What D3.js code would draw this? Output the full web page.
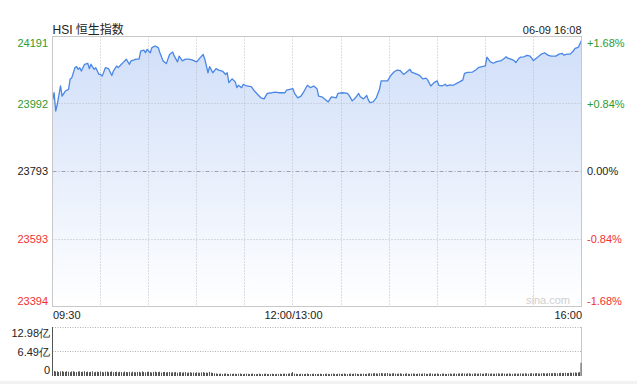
<!DOCTYPE html>
<html>
<head>
<meta charset="utf-8">
<script src="https://cdn.jsdelivr.net/npm/d3@7"></script>
<style>
body { margin: 0; background: #fff; }
svg { display: block; font-family: "Liberation Sans", Arial, "Noto Sans CJK SC", sans-serif; }
</style>
</head>
<body>
<script>
// minutes since 09:30, lunch break (12:00-13:00) squeezed out
var priceMinutes = [0,1,2,3,5,6,8,10,11,12,14,15,16,17,18,20,22,23,24,26,27,29,30,31,33,35,37,38,40,41,
	43,44,46,48,49,51,52,54,55,57,58,59,61,62,64,66,67,69,71,73,75,76,78,79,81,83,85,87,90,92,
	94,95,97,98,100,102,104,106,108,109,110,112,114,115,116,118,119,121,124,126,128,130,132,134,137,139,141,145,146,150,
	151,153,155,157,159,161,163,165,166,168,170,172,174,177,178,181,184,185,187,189,191,192,194,196,197,198,200,202,204,205,
	207,209,211,213,215,217,219,221,223,224,226,229,231,233,234,236,238,240,241,243,245,246,248,250,253,254,256,257,259,262,
	264,266,268,270,271,273,275,277,280,282,283,284,286,288,289,291,292,294,296,298,300,301,303,305,307,309,311,314,316,318,
	319,321,323,325,326,328,330];
var priceValues = [24003,24025,23971,23991,24045,24015,24030,24035,24065,24069,24099,24102,24094,24099,24089,24109,24112,24096,24109,24094,24099,24079,24079,24074,24099,24096,24076,24089,24104,24099,
	24109,24114,24124,24109,24119,24122,24124,24124,24148,24151,24143,24153,24143,24158,24163,24158,24143,24119,24111,24138,24145,24133,24116,24133,24119,24124,24124,24122,24116,24128,
	24138,24124,24084,24102,24084,24096,24091,24089,24079,24084,24055,24066,24057,24040,24047,24040,24050,24045,24043,24030,24020,24010,24007,24023,24025,24027,24025,24025,24033,24037,
	24023,24010,24015,24030,24047,24040,24045,24037,24015,24013,24006,23998,24013,24010,24023,24025,24023,24017,24001,24010,24023,24013,24007,24017,24004,23996,23998,24010,24035,24060,
	24060,24060,24076,24086,24092,24090,24079,24086,24094,24086,24082,24076,24066,24068,24063,24045,24055,24060,24047,24045,24050,24045,24048,24047,24055,24057,24063,24082,24085,24086,
	24092,24100,24102,24104,24130,24117,24112,24117,24120,24127,24131,24127,24124,24120,24114,24127,24130,24131,24135,24133,24120,24124,24131,24139,24143,24136,24133,24133,24139,24141,
	24136,24139,24139,24149,24156,24159,24179];

// turnover per minute, 亿
var volumes = [12.98,
	1.32,1.18,1.25,1.05,1.21,1.30,1.12,1.08,1.26,1.15,1.02,1.22,1.28,1.10,1.05,1.19,1.24,1.08,1.14,1.27,
	1.06,1.18,1.02,1.12,1.25,0.98,1.10,1.15,1.04,1.20,1.08,0.96,1.14,1.18,1.02,1.09,1.22,1.00,1.06,1.16,
	0.98,1.12,1.04,0.94,1.18,1.06,1.00,1.10,0.92,1.15,1.03,0.98,1.08,1.12,0.95,1.20,1.05,0.97,1.10,1.14,
	1.02,0.93,1.08,1.16,0.98,1.04,1.12,0.90,1.06,1.10,0.95,1.02,1.08,0.92,1.00,0.96,1.05,0.88,0.98,1.02,
	0.90,0.96,1.04,0.86,0.92,1.00,0.88,0.95,0.84,0.98,0.90,0.86,0.94,1.02,0.88,0.92,0.85,1.10,0.90,0.82,
	0.72,0.66,0.60,0.58,0.64,0.55,0.62,0.68,0.57,0.52,0.60,0.56,0.63,0.58,0.54,0.61,0.66,0.55,0.50,0.59,
	0.62,0.56,0.52,0.58,0.64,0.53,0.49,0.57,0.60,0.55,0.51,0.58,0.62,0.54,0.50,0.56,0.60,0.53,0.48,0.57,
	0.55,0.60,0.52,0.58,0.63,0.56,0.62,0.68,0.72,1.05,
	0.62,0.58,0.54,0.50,0.60,0.56,0.52,0.58,0.64,0.55,0.50,0.57,0.61,0.53,0.49,0.56,0.60,0.54,0.51,0.58,
	0.62,0.55,0.52,0.59,0.64,0.56,0.50,0.58,0.63,0.54,0.60,0.66,0.57,0.52,0.59,0.64,0.55,0.61,0.68,0.58,
	0.53,0.60,0.56,0.62,0.52,0.58,0.66,0.72,0.64,0.70,0.76,0.68,0.62,0.74,0.80,0.70,0.66,0.72,0.78,0.64,
	0.60,0.68,0.74,0.62,0.58,0.66,0.71,0.60,0.56,0.64,0.70,0.58,0.55,0.62,0.67,0.59,0.54,0.61,0.66,0.57,
	0.63,0.70,0.58,0.55,0.64,0.72,0.60,0.56,0.62,0.68,0.58,0.54,0.61,0.66,0.57,0.53,0.60,0.65,0.56,0.62,
	0.68,0.58,0.64,0.70,0.61,0.74,0.66,0.60,0.68,0.72,0.62,0.58,0.66,0.70,0.60,0.64,0.71,0.58,0.62,0.68,
	0.76,0.64,0.60,0.68,0.62,0.58,0.66,0.70,0.60,0.65,0.72,0.62,0.58,0.64,0.69,0.60,0.56,0.63,0.67,0.59,
	0.64,0.70,0.62,0.66,0.72,0.64,0.60,0.68,0.74,0.66,0.70,0.76,0.68,0.64,0.72,0.78,0.70,0.66,0.74,0.80,
	0.72,0.76,0.82,0.74,0.70,0.78,0.84,0.76,0.80,0.86,0.78,0.82,0.90,0.84,0.88,0.94,0.86,0.92,1.02,
	3.50];

var prevClose = 23793;
var priceTicks = [24191, 23992, 23793, 23593, 23394];
var pctLabels = ["+1.68%", "+0.84%", "0.00%", "-0.84%", "-1.68%"];
var timeTicks = [0, 150, 330];
var timeLabels = ["09:30", "12:00/13:00", "16:00"];
var volTicks = [12.98, 6.49, 0];
var volLabels = ["12.98亿", "6.49亿", "0"];

const width = 637;
const height = 384;
const plotLeft = 52.5, plotRight = 581.5;
const plotTop = 36.5, plotBottom = 306.5;
const volTop = 327, volBottom = 376;

const green = "#2f9a2f", red = "#f23030";
const gridColor = "#b9bcc4";

const x = d3.scaleLinear().domain([0, 330]).range([plotLeft, plotRight]);
const y = d3.scaleLinear().domain([23394, 24191]).range([plotBottom, plotTop]);
const yv = d3.scaleLinear().domain([0, 12.98]).range([volBottom, volTop]);

function crisp(v){ return Math.round(v - 0.5) + 0.5; }
function tickColor(v){
	if (v > prevClose) return green;
	if (v < prevClose) return red;
	return "#222";
}

const svg = d3.select("body").append("svg")
	.attr("width", width)
	.attr("height", height);

svg.append("rect").attr("width", width).attr("height", height).attr("fill", "#fff");
svg.append("rect").attr("x", 0).attr("y", 381).attr("width", width).attr("height", 3).attr("fill", "#f2f2f2");

const grad = svg.append("defs").append("linearGradient")
	.attr("id", "areaFill")
	.attr("gradientUnits", "userSpaceOnUse")
	.attr("x1", 0).attr("x2", 0)
	.attr("y1", plotTop).attr("y2", plotBottom);
grad.append("stop").attr("offset", "0%").attr("stop-color", "#cfdef8");
grad.append("stop").attr("offset", "100%").attr("stop-color", "#ffffff");

var series = priceMinutes.map(function(m, i){ return {m: m, v: priceValues[i]}; });

// area under the line
svg.append("path")
	.datum(series)
	.attr("fill", "url(#areaFill)")
	.attr("d", d3.area().x(d => x(d.m)).y0(plotBottom).y1(d => y(d.v)));

// vertical grid every 30 min
svg.append("g")
	.selectAll("line")
	.data(d3.range(30, 330, 30))
	.enter().append("line")
		.attr("x1", d => crisp(x(d))).attr("x2", d => crisp(x(d)))
		.attr("y1", plotTop).attr("y2", plotBottom)
		.attr("stroke", gridColor)
		.attr("stroke-dasharray", "1,2");

// horizontal grid
svg.append("g")
	.selectAll("line")
	.data(priceTicks.slice(1, 4))
	.enter().append("line")
		.attr("x1", plotLeft).attr("x2", plotRight)
		.attr("y1", d => crisp(y(d))).attr("y2", d => crisp(y(d)))
		.attr("stroke", d => d == prevClose ? "#a0a0a8" : gridColor)
		.attr("stroke-dasharray", d => d == prevClose ? "4,2,1,2" : "1,2");

// the price line
svg.append("path")
	.datum(series)
	.attr("fill", "none")
	.attr("stroke", "#4a86e6")
	.attr("stroke-width", 1.3)
	.attr("stroke-linejoin", "round")
	.attr("d", d3.line().x(d => x(d.m)).y(d => y(d.v)));

// frame
svg.append("rect")
	.attr("x", plotLeft).attr("y", plotTop)
	.attr("width", plotRight - plotLeft).attr("height", plotBottom - plotTop)
	.attr("fill", "none")
	.attr("stroke", "#c8c8c8");

svg.append("text")
	.attr("x", 570)
	.attr("y", 303.5)
	.attr("text-anchor", "end")
	.attr("font-size", "11px")
	.attr("fill", "#cfcfcf")
	.text("sina.com");

// price axis
const yAxis = svg.append("g")
	.attr("transform", `translate(${plotLeft - 0.5}, 0)`)
	.call(d3.axisLeft(y).tickValues(priceTicks).tickSize(0).tickPadding(4).tickFormat(d3.format("d")));
yAxis.select(".domain").remove();

const pAxis = svg.append("g")
	.attr("transform", `translate(${plotRight + 0.5}, 0)`)
	.call(d3.axisRight(y).tickValues(priceTicks).tickSize(0).tickPadding(5)
		.tickFormat((d, i) => pctLabels[i]));
pAxis.select(".domain").remove();

[yAxis, pAxis].forEach(function(g){
	g.selectAll("text")
		.attr("font-family", null)
		.attr("font-size", "11px")
		.attr("fill", d => tickColor(d))
		.attr("dy", (d, i) => i == 0 ? "0.95em" : (i == priceTicks.length - 1 ? "-0.15em" : "0.32em"));
});

// time axis
const xAxis = svg.append("g")
	.attr("transform", `translate(0, ${plotBottom})`)
	.call(d3.axisBottom(x).tickValues(timeTicks).tickSize(0).tickPadding(5)
		.tickFormat((d, i) => timeLabels[i]));
xAxis.select(".domain").remove();
xAxis.selectAll("text")
	.attr("font-family", null)
	.attr("font-size", "11px")
	.attr("fill", "#222")
	.attr("text-anchor", (d, i) => i == 0 ? "start" : (i == timeTicks.length - 1 ? "end" : "middle"));

// header
svg.append("text")
	.attr("x", plotLeft)
	.attr("y", 33.5)
	.attr("font-size", "12px")
	.attr("fill", "#222")
	.text("HSI 恒生指数");
svg.append("text")
	.attr("x", plotRight)
	.attr("y", 33.5)
	.attr("text-anchor", "end")
	.attr("font-size", "11px")
	.attr("fill", "#222")
	.text("06-09 16:08");

// volume panel
svg.append("g")
	.selectAll("line")
	.data(volTicks.slice(0, 2))
	.enter().append("line")
		.attr("x1", plotLeft).attr("x2", plotRight)
		.attr("y1", d => crisp(yv(d))).attr("y2", d => crisp(yv(d)))
		.attr("stroke", "#b0b0b0")
		.attr("stroke-dasharray", "1,1.5");

svg.append("line")
	.attr("x1", plotRight).attr("x2", plotRight)
	.attr("y1", volTop).attr("y2", volBottom)
	.attr("stroke", "#c8c8c8");
svg.append("line")
	.attr("x1", plotLeft).attr("x2", plotLeft)
	.attr("y1", volTop).attr("y2", volBottom)
	.attr("stroke", "#c8c8c8");

svg.append("g")
	.selectAll("rect")
	.data(volumes)
	.enter().append("rect")
		.attr("x", (d, i) => Math.min(Math.floor(x(i)), plotRight - 1))
		.attr("y", d => yv(d))
		.attr("width", 1)
		.attr("height", d => volBottom - yv(d))
		.attr("fill", "#555");

const vAxis = svg.append("g")
	.attr("transform", `translate(${plotLeft - 0.5}, 0)`)
	.call(d3.axisLeft(yv).tickValues(volTicks).tickSize(0).tickPadding(2)
		.tickFormat((d, i) => volLabels[i]));
vAxis.select(".domain").remove();
vAxis.selectAll("text")
	.attr("font-family", null)
	.attr("font-size", "11px")
	.attr("fill", "#222")
	.attr("dy", (d, i) => i == 0 ? "0.9em" : (i == volTicks.length - 1 ? "-0.2em" : "0.32em"));
</script>
</body>
</html>
